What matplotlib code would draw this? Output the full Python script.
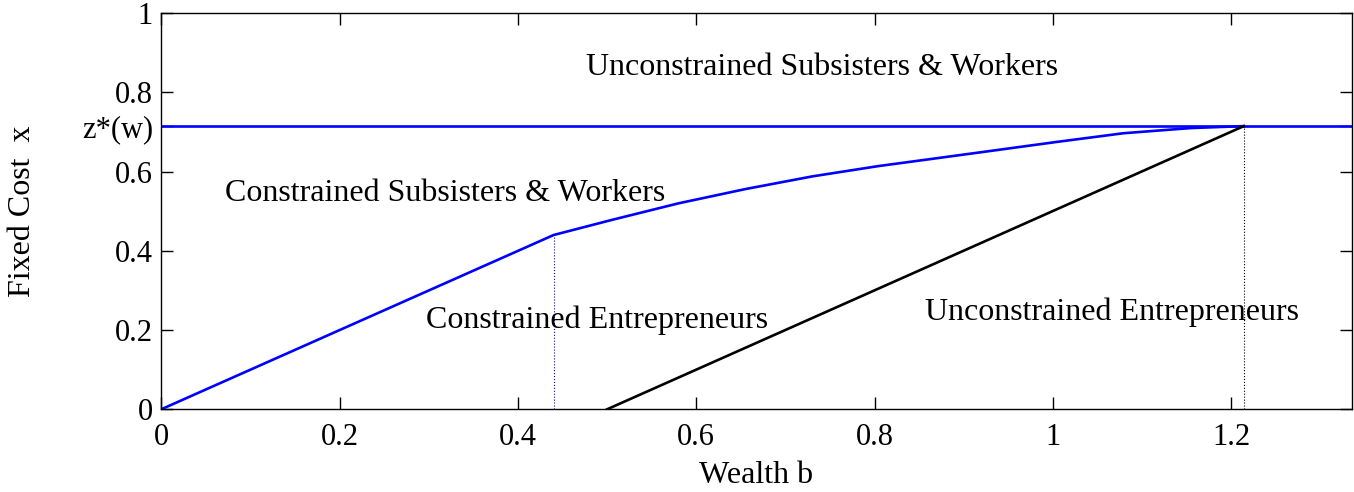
import numpy as np
import matplotlib.pyplot as plt

plt.rcParams['font.family'] = ['Liberation Serif', 'DejaVu Serif']

# Boundary between constrained subsisters/workers and entrepreneurs
bound_b = [0, 0.44, 0.505, 0.58, 0.655, 0.73, 0.804, 0.87, 0.929, 1.004, 1.079, 1.154, 1.214]
bound_x = [0, 0.44, 0.478, 0.520, 0.556, 0.588, 0.614, 0.634, 0.652, 0.675, 0.697, 0.710, 0.715]

# Unconstrained entrepreneur boundary (straight line)
ent_b = [0.5, 1.214]
ent_x = [0.0, 0.715]

z_star = 0.715
b_kink = 0.44
b_max = 1.214

x_ticks = [0, 0.2, 0.4, 0.6, 0.8, 1.0, 1.2]
x_labels = ['0', '0.2', '0.4', '0.6', '0.8', '1', '1.2']
y_ticks = [0, 0.2, 0.4, 0.6, z_star, 0.8, 1.0]
y_labels = ['0', '0.2', '0.4', '0.6', 'z*(w)', '0.8', '1']

fig = plt.figure(figsize=(13.54, 4.92), dpi=100)
ax = fig.add_axes([0.1191, 0.1681, 0.8792, 0.805])

ax.axhline(z_star, color='#0000ff', lw=1.9)
ax.plot(bound_b, bound_x, color='#0000ff', lw=1.9)
ax.plot(ent_b, ent_x, color='black', lw=1.9)
ax.plot([b_kink, b_kink], [0, b_kink], color='#0000ff', lw=0.8, ls=':')
ax.plot([b_max, b_max], [0, z_star], color='black', lw=0.8, ls=':')

fs = 23
ax.text(0.741, 0.862, 'Unconstrained Subsisters & Workers', ha='center', va='center', fontsize=fs)
ax.text(0.318, 0.546, 'Constrained Subsisters & Workers', ha='center', va='center', fontsize=fs)
ax.text(0.489, 0.2255, 'Constrained Entrepreneurs', ha='center', va='center', fontsize=fs)
ax.text(1.066, 0.246, 'Unconstrained Entrepreneurs', ha='center', va='center', fontsize=fs)

ax.set_xlim(0, 1.335)
ax.set_ylim(0, 1)
ax.set_xticks(x_ticks)
ax.set_xticklabels(x_labels)
ax.set_yticks(y_ticks)
ax.set_yticklabels(y_labels)
ax.tick_params(direction='in', length=8.6, width=1, top=True, right=True,
               labelsize=22)
ax.tick_params(axis='x', pad=10)
ax.tick_params(axis='y', pad=6)
for s in ax.spines.values():
    s.set_linewidth(1.0)

ax.set_xlabel('Wealth b', fontsize=fs, labelpad=6)
ax.set_ylabel('Fixed Cost  x', fontsize=fs, labelpad=32)

fig.savefig('out.png', dpi=100)
